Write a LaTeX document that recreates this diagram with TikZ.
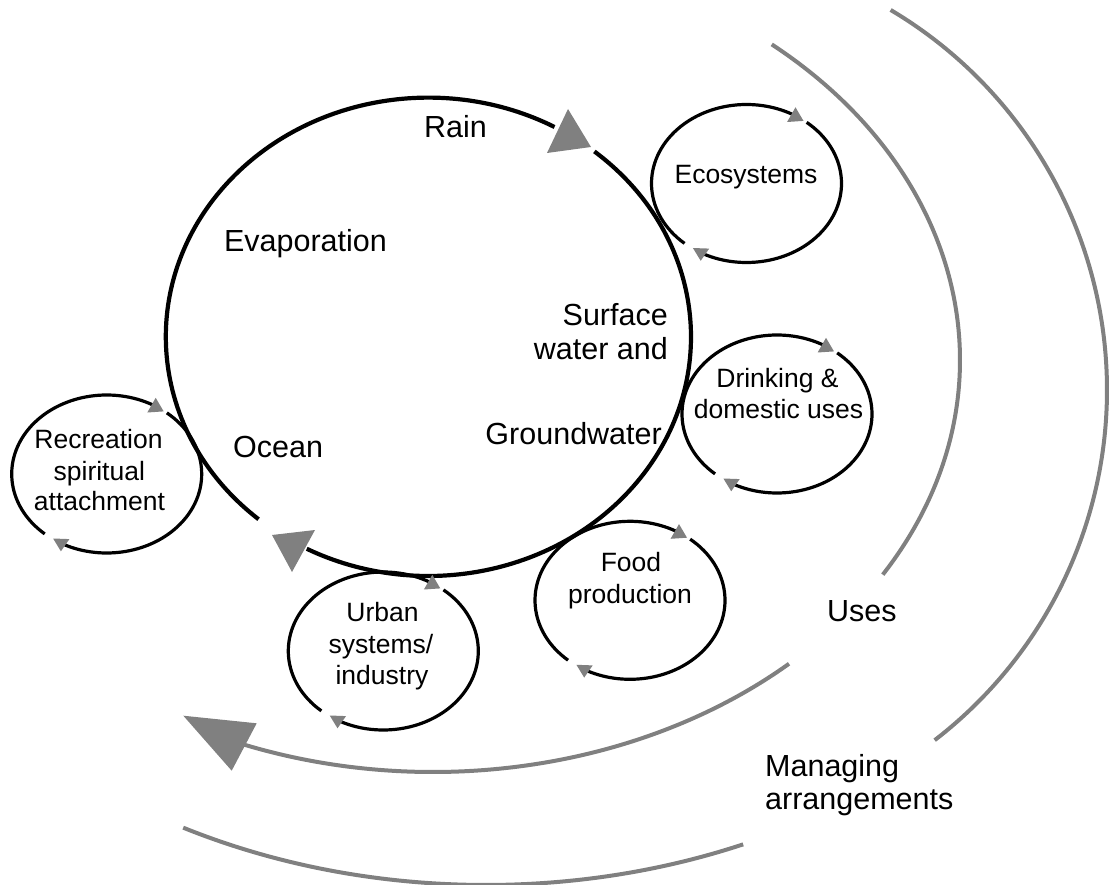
\documentclass[tikz,border=0pt]{standalone}
\usepackage{fontspec}
\setmainfont{Liberation Sans}
\definecolor{arcgray}{RGB}{128,128,128}
\begin{document}
\begin{tikzpicture}[x=1pt,y=-1pt,
  bigtxt/.style={font=\fontsize{30.5}{34}\selectfont, inner sep=0pt},
  smalltxt/.style={font=\fontsize{26.5}{30}\selectfont, inner sep=0pt},
  cyc/.style={line width=4.2pt, draw=black},
  smallcyc/.style={line width=3.2pt, draw=black},
  usearc/.style={line width=4pt, draw=arcgray},
  tip/.style={fill=arcgray, draw=none},
  pics/minicycle/.style={code={
    \draw[smallcyc] (130.7:95 and 79) arc[start angle=130.7, end angle=299, x radius=95, y radius=79];
    \draw[smallcyc] (-50.7:95 and 79) arc[start angle=-50.7, end angle=117, x radius=95, y radius=79];
    \fill[tip] (40.6,-61.5) -- (57,-62.6) -- (49,-76.2) -- cycle;
    \fill[tip] (-53.6,64.5) -- (-37.3,65.1) -- (-45.8,77.3) -- cycle;
  }}
]
\useasboundingbox (0,0) rectangle (1109,885);
\clip (0,0) rectangle (1109,885);

% centres
\coordinate (water) at (428.4,336.8);
\coordinate (usec) at (433,360);
\coordinate (mgmtR) at (665,390);
\coordinate (mgmtB) at (486,395);

% managing arrangements (outer grey arc)
\draw[usearc] ([shift={(-59.3:442 and 442)}]mgmtR) arc[start angle=-59.3, end angle=52.4, x radius=442, y radius=442];
\draw[usearc] ([shift={(66.5:645 and 490)}]mgmtB) arc[start angle=66.5, end angle=118, x radius=645, y radius=490];

% uses (inner grey arc)
\draw[usearc] ([shift={(-50:527 and 412)}]usec) arc[start angle=-50, end angle=31.4, x radius=527, y radius=412];
\draw[usearc] ([shift={(47.5:527 and 412)}]usec) arc[start angle=47.5, end angle=111, x radius=527, y radius=412];
\fill[tip] (183.3,715.7) -- (256.7,723.3) -- (231.7,770.7) -- cycle;

% water cycle (big circle)
\draw[cyc] ([shift={(130.3:262.6 and 239.2)}]water) arc[start angle=130.3, end angle=298.7, x radius=262.6, y radius=239.2];
\draw[cyc] ([shift={(-50.8:262.6 and 239.2)}]water) arc[start angle=-50.8, end angle=117.6, x radius=262.6, y radius=239.2];
\fill[tip] (547,153) -- (591,147) -- (568,109) -- cycle;
\fill[tip] (272,535) -- (315,530) -- (292,572) -- cycle;

% small cycles
\pic (eco) at (746.5,183.5) {minicycle};
\pic (drink) at (777,414) {minicycle};
\pic (food) at (630,600.3) {minicycle};
\pic (urban) at (383.3,651) {minicycle};
\pic (recr) at (106.7,474) {minicycle};

% big labels
\node[bigtxt, anchor=base] (rain) at (455.5,138) {Rain};
\node[bigtxt, anchor=base] (evap) at (305.5,252) {Evaporation};
\node[bigtxt, anchor=base east] (surf1) at (668,326) {Surface};
\node[bigtxt, anchor=base east] (surf2) at (668,360) {water and};
\node[bigtxt, anchor=base east] (ground) at (662,444) {Groundwater};
\node[bigtxt, anchor=base west] (ocean) at (233,457) {Ocean};
\node[bigtxt, anchor=base west] (uses) at (827,621) {Uses};
\node[bigtxt, anchor=base west] (man1) at (765,776) {Managing};
\node[bigtxt, anchor=base west] (man2) at (765,809) {arrangements};

% small labels
\node[smalltxt, anchor=base] (ecot) at (746,183.3) {Ecosystems};
\node[smalltxt, anchor=base] (drink1) at (777.5,388) {Drinking \&};
\node[smalltxt, anchor=base] (drink2) at (778.5,418) {domestic uses};
\node[smalltxt, anchor=base] (food1) at (631,571.7) {Food};
\node[smalltxt, anchor=base] (food2) at (630,603.3) {production};
\node[smalltxt, anchor=base] (urb1) at (382.5,621.7) {Urban};
\node[smalltxt, anchor=base] (urb2) at (381,653.3) {systems/};
\node[smalltxt, anchor=base] (urb3) at (382,684) {industry};
\node[smalltxt, anchor=base] (rec1) at (98.5,448) {Recreation};
\node[smalltxt, anchor=base] (rec2) at (99.3,480) {spiritual};
\node[smalltxt, anchor=base] (rec3) at (99.5,510) {attachment};
\end{tikzpicture}
\end{document}
